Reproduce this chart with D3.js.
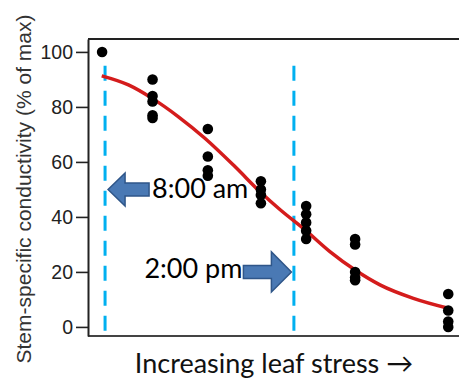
<!DOCTYPE html>
<html>
<head>
<meta charset="utf-8">
<script src="https://cdn.jsdelivr.net/npm/d3@7"></script>
<style>
    body { margin: 0; background: #fff; }
</style>
</head>
<body>
<div id="conductivity-container"></div>
<script>
// measured groups: leaf stress (arbitrary units) and stem conductivity (% of max)
const stressLevels = [0.38, 1.74, 3.23, 4.66, 5.88, 7.2, 9.71];
const conductivity = [
    [100],
    [90, 84, 82, 77, 76],
    [72, 62, 57, 55],
    [53, 50, 48, 45],
    [44, 41, 38, 35, 32],
    [32, 30, 20, 18, 17],
    [12, 6, 2, 0],
];
// fitted curve
const fitStress = [0.37, 1.09, 1.72, 2.43, 3.15, 3.96, 4.68, 5.18, 5.85, 6.52, 7.2, 7.87, 8.77, 9.71];
const fitValue = [91.3, 88, 83.2, 76.5, 68.6, 58.3, 48.6, 42.6, 35.3, 27.4, 20.7, 15.3, 10.4, 6.8];
// time-of-day markers
const markLabels = ["8:00 am", "2:00 pm"];
const markStress = [0.46, 5.55];
const markLevel = [50, 20];
const yTicks = [0, 20, 40, 60, 80, 100];

const selector = "#conductivity-container";
const width = 459;
const height = 379;
const margin = { top: 39, right: 0, bottom: 43, left: 88 };
const innerWidth = width - margin.left - margin.right;
const innerHeight = height - margin.top - margin.bottom;

const svg = d3.select(selector)
    .append("svg")
    .attr("width", width)
    .attr("height", height);
const graph = svg.append("g")
    .attr("transform", `translate(${margin.left},${margin.top})`);

const x = d3.scaleLinear()
    .domain([0, 10])
    .range([0, innerWidth]);
const y = d3.scaleLinear()
    .domain([-3.3, 104.7])
    .range([innerHeight, 0]);

// frame: top and bottom lines run off the right edge
graph.append("line")
    .attr("x1", 0).attr("x2", innerWidth)
    .attr("y1", 0).attr("y2", 0)
    .attr("stroke", "#222")
    .attr("stroke-width", 2);
graph.append("line")
    .attr("x1", 0).attr("x2", innerWidth)
    .attr("y1", innerHeight).attr("y2", innerHeight)
    .attr("stroke", "#444")
    .attr("stroke-width", 2);

const yAxis = graph.append("g")
    .call(d3.axisLeft(y).tickValues(yTicks).tickSize(12).tickSizeOuter(0).tickPadding(3));
yAxis.select(".domain")
    .attr("stroke", "#222")
    .attr("stroke-width", 2);
yAxis.selectAll(".tick line")
    .attr("stroke", "#222")
    .attr("stroke-width", 1.6);
yAxis.selectAll(".tick text")
    .attr("fill", "#222")
    .style("font-family", "'Liberation Sans', Arial, sans-serif")
    .style("font-size", "19.5px");

svg.append("text")
    .attr("transform", `translate(31, 189) rotate(-90)`)
    .attr("text-anchor", "middle")
    .attr("fill", "#333")
    .style("font-family", "'Liberation Sans', Arial, sans-serif")
    .style("font-size", "21px")
    .text("Stem-specific conductivity (% of max)");

svg.append("text")
    .attr("x", 274)
    .attr("y", 373)
    .attr("text-anchor", "middle")
    .attr("fill", "#111")
    .style("font-family", "Lato, 'Open Sans', sans-serif")
    .style("font-size", "27px")
    .text("Increasing leaf stress \u2192");

// dashed time markers
graph.selectAll(".mark-line")
    .data(markStress)
    .enter()
    .append("line")
    .attr("class", "mark-line")
    .attr("x1", d => x(d)).attr("x2", d => x(d))
    .attr("y1", y(95)).attr("y2", innerHeight)
    .attr("stroke", "#00b0f0")
    .attr("stroke-width", 3)
    .attr("stroke-dasharray", "15, 10");

// fitted curve
const points = fitStress.map((s, i) => [s, fitValue[i]]);
graph.append("path")
    .datum(points)
    .attr("fill", "none")
    .attr("stroke", "#d41c1c")
    .attr("stroke-width", 3.5)
    .attr("d", d3.line().x(d => x(d[0])).y(d => y(d[1])).curve(d3.curveMonotoneX));

// measured points
const dots = [];
conductivity.forEach((vals, i) => vals.forEach(v => dots.push({ stress: stressLevels[i], value: v })));
graph.selectAll(".dot")
    .data(dots)
    .enter()
    .append("circle")
    .attr("class", "dot")
    .attr("cx", d => x(d.stress))
    .attr("cy", d => y(d.value))
    .attr("r", 5.3)
    .attr("fill", "#000");

// block arrows + labels
markLabels.forEach((label, i) => {
    const dir = i === 0 ? -1 : 1; // -1 points left, 1 points right
    const tipX = x(markStress[i]) + (dir < 0 ? 3 : -2.5);
    const tipY = y(markLevel[i]);
    const len = dir < 0 ? 41 : 48;
    const head = dir < 0 ? 17 : 20;
    const halfHead = dir < 0 ? 16.5 : 20;
    const halfShaft = 6.5;
    const s = -dir;
    const pts = [
        [tipX, tipY],
        [tipX + s * head, tipY - halfHead],
        [tipX + s * head, tipY - halfShaft],
        [tipX + s * len, tipY - halfShaft],
        [tipX + s * len, tipY + halfShaft],
        [tipX + s * head, tipY + halfShaft],
        [tipX + s * head, tipY + halfHead],
    ];
    graph.append("path")
        .attr("d", "M" + pts.map(p => p.join(",")).join("L") + "Z")
        .attr("fill", "#4a79b4")
        .attr("stroke", "#2f5689")
        .attr("stroke-width", 1.5);
    graph.append("text")
        .attr("x", tipX + s * (len + (dir < 0 ? 3 : 1)))
        .attr("y", tipY + (dir < 0 ? 9 : 6))
        .attr("text-anchor", dir < 0 ? "start" : "end")
        .attr("fill", "#000")
        .style("font-family", "Lato, 'Open Sans', sans-serif")
        .style("font-size", "27px")
        .text(label);
});
</script>
</body>
</html>
